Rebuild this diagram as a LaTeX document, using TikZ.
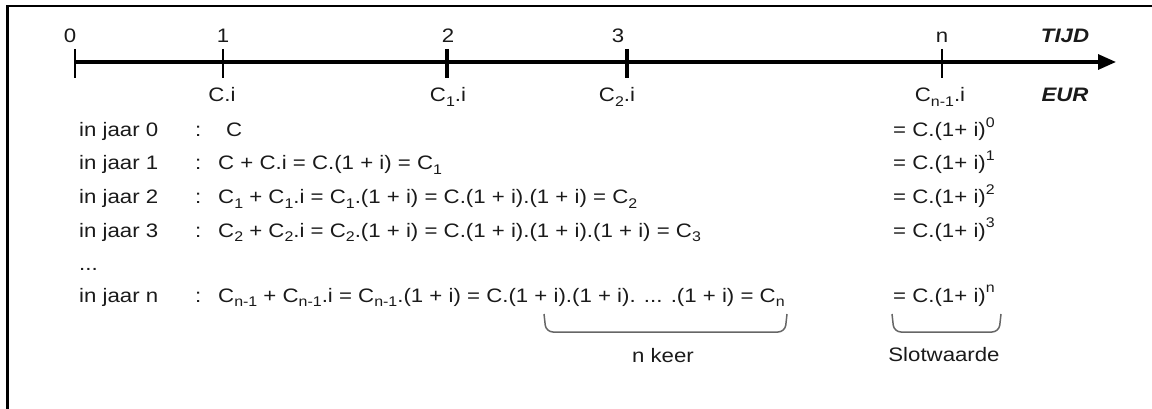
\documentclass[tikz,border=0pt]{standalone}
\usepackage{fontspec}
\setmainfont{Liberation Sans}[FakeStretch=1.14]
\usetikzlibrary{arrows.meta}
\newcommand{\dn}[1]{\raisebox{-0.4ex}{\fontsize{14}{14}\selectfont #1}}
\newcommand{\up}[1]{\raisebox{0.95ex}{\fontsize{14}{14}\selectfont #1}}
\definecolor{txt}{HTML}{1A1A1A}
\definecolor{brc}{HTML}{666666}
\tikzset{
  lbl/.style={inner sep=0pt, text=txt, font=\fontsize{19.5}{21}\selectfont},
  unit/.style={lbl, font=\fontsize{19.5}{21}\selectfont\bfseries\itshape},
  axis/.style={line width=3.2pt, -{Triangle[length=18pt,width=15pt]}},
  thin tick/.style={line width=2pt},
  thick tick/.style={line width=4pt},
  brace/.style={draw=brc, line width=1.5pt, rounded corners=7pt},
  frame/.style={line width=2.6pt}
}
\begin{document}
\begin{tikzpicture}[x=1pt,y=-1pt]
\useasboundingbox (0,0) rectangle (1152,409);
% frame (top and left only)
\draw[frame] (7.5,409) -- (7.5,6) -- (1152,6);
% timeline
\coordinate (t0) at (75,62);
\coordinate (tend) at (1116,62);
\draw[axis] (t0) -- (tend);
\draw[thin tick] (75,49) -- (75,78);
\draw[thin tick] (223,49) -- (223,78);
\draw[thick tick] (447,49) -- (447,78);
\draw[thick tick] (627,49) -- (627,78);
\draw[thin tick] (942,49) -- (942,78);
% top labels
\node[lbl, anchor=base] (n0) at (70,43) {0};
\node[lbl, anchor=base] (n1) at (223,43) {1};
\node[lbl, anchor=base] (n2) at (448,43) {2};
\node[lbl, anchor=base] (n3) at (618,43) {3};
\node[lbl, anchor=base] (nn) at (942,43) {n};
\node[unit, anchor=base] (tijd) at (1065,43) {TIJD};
% bottom labels
\node[lbl, anchor=base] (c0) at (222,102) {C.i};
\node[lbl, anchor=base] (c1) at (448,102) {C\dn{1}.i};
\node[lbl, anchor=base] (c2) at (617,102) {C\dn{2}.i};
\node[lbl, anchor=base] (cn) at (940,102) {C\dn{n-1}.i};
\node[unit, anchor=base] (eur) at (1065,102) {EUR};
% rows
\node[lbl, anchor=base west] (y0) at (79,137) {in jaar 0};
\node[lbl, anchor=base west] (y1) at (79,170) {in jaar 1};
\node[lbl, anchor=base west] (y2) at (79,204) {in jaar 2};
\node[lbl, anchor=base west] (y3) at (79,237) {in jaar 3};
\node[lbl, anchor=base west] (yd) at (79,270) {...};
\node[lbl, anchor=base west] (yn) at (79,302) {in jaar n};
\foreach \yy/\nm in {137/k0,170/k1,204/k2,237/k3,302/kn}
  \node[lbl, anchor=base west] (\nm) at (195,\yy) {:};
\node[lbl, anchor=base west] (f0) at (226,137) {C};
\node[lbl, anchor=base west] (f1) at (218,170) {C + C.i = C.(1 + i) = C\dn{1}};
\node[lbl, anchor=base west] (f2) at (218,204) {C\dn{1} + C\dn{1}.i = C\dn{1}.(1 + i) = C.(1 + i).(1 + i) = C\dn{2}};
\node[lbl, anchor=base west] (f3) at (218,237) {C\dn{2} + C\dn{2}.i = C\dn{2}.(1 + i) = C.(1 + i).(1 + i).(1 + i) = C\dn{3}};
\node[lbl, anchor=base west] (fn) at (218,302) {C\dn{n-1} + C\dn{n-1}.i = C\dn{n-1}.(1 + i) = C.(1 + i).(1 + i). ... .(1 + i) = C\dn{n}};
% right column
\node[lbl, anchor=base west] (r0) at (893,137) {= C.(1+ i)\up{0}};
\node[lbl, anchor=base west] (r1) at (893,170) {= C.(1+ i)\up{1}};
\node[lbl, anchor=base west] (r2) at (893,204) {= C.(1+ i)\up{2}};
\node[lbl, anchor=base west] (r3) at (893,237) {= C.(1+ i)\up{3}};
\node[lbl, anchor=base west] (rn) at (893,302) {= C.(1+ i)\up{n}};
% braces
\draw[brace] (544,314) -- (546,332) -- (785,332) -- (787,314);
\draw[brace] (892,314) -- (894,332) -- (999,332) -- (1001,314);
\node[lbl, anchor=base] (keer) at (663,362) {n keer};
\node[lbl, anchor=base] (slot) at (944,361) {Slotwaarde};
\end{tikzpicture}
\end{document}
